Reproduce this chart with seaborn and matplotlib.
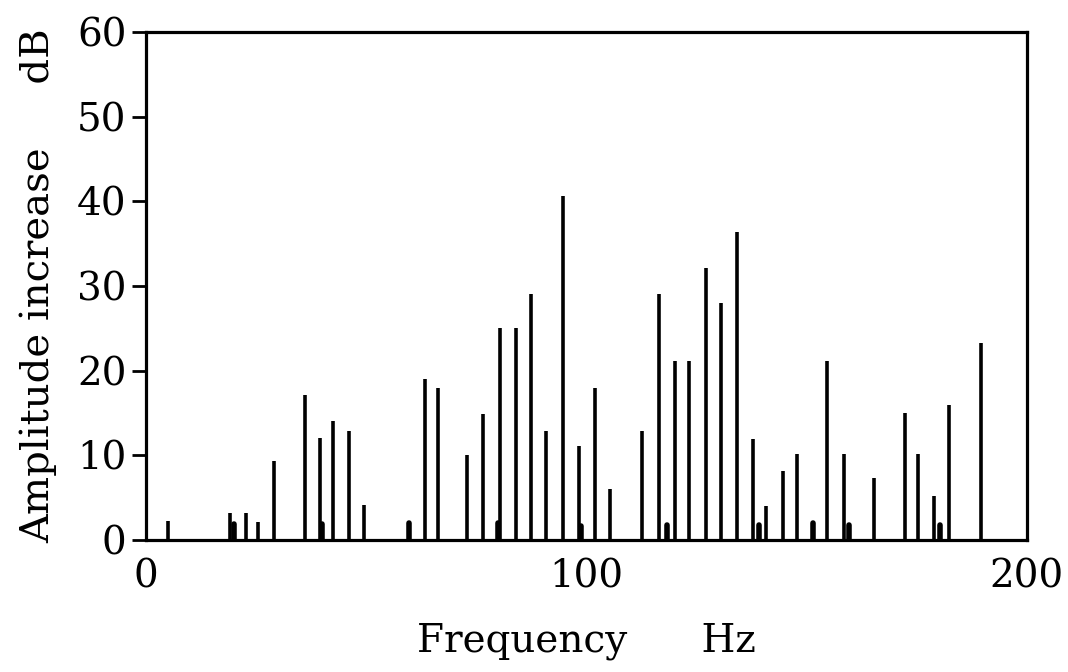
import matplotlib
matplotlib.use("Agg")
import matplotlib.pyplot as plt
import seaborn as sns
import pandas as pd
import numpy as np

# Main spectral lines (frequency in Hz, amplitude increase in dB)
freq_main = [5.0, 19.1, 22.8, 25.5, 29.1, 36.0, 39.4, 42.5, 46.0, 49.4,
             63.3, 66.4, 72.8, 76.5, 80.3, 84.0, 87.4, 90.8, 94.7, 98.3,
             102.0, 105.3, 112.6, 116.5, 120.0, 123.3, 127.2, 130.6, 134.2,
             137.9, 140.8, 144.5, 147.9, 154.7, 158.4, 165.2, 172.2, 175.2,
             178.8, 182.3, 189.5]
amp_main = [2.3, 3.2, 3.2, 2.1, 9.3, 17.1, 12.1, 14.0, 12.9, 4.1,
            19.0, 18.0, 10.0, 14.9, 25.0, 25.0, 29.0, 12.9, 40.6, 11.1,
            18.0, 6.0, 12.9, 29.0, 21.1, 21.1, 32.1, 28.0, 36.4,
            11.9, 4.0, 8.2, 10.1, 21.1, 10.1, 7.3, 15.0, 10.2,
            5.2, 16.0, 23.3]

# Short thick stubs
freq_stub = [20.0, 40.0, 59.8, 80.0, 98.7, 118.3, 139.2, 151.5, 159.7, 180.2]
amp_stub = [1.9, 1.9, 2.0, 2.0, 1.6, 1.8, 1.8, 2.0, 1.8, 1.8]

x_ticks = [0, 100, 200]
y_ticks = [0, 10, 20, 30, 40, 50, 60]


def stems(freqs, amps, prefix):
    rows = []
    for i, (f, a) in enumerate(zip(freqs, amps)):
        rows.append({"id": f"{prefix}{i}", "f": f, "a": 0.0})
        rows.append({"id": f"{prefix}{i}", "f": f, "a": a})
    return pd.DataFrame(rows)


sns.set_theme(style="white")
plt.rcParams["font.family"] = ["DejaVu Serif"]

fig = plt.figure(figsize=(10.68, 6.72), dpi=100)
ax = fig.add_axes([146 / 1068, 1 - 540 / 672, (1027 - 146) / 1068, (540 - 32) / 672])

sns.lineplot(data=stems(freq_main, amp_main, "m"), x="f", y="a", units="id",
             estimator=None, color="black", linewidth=2.6, ax=ax,
             solid_capstyle="butt")
sns.lineplot(data=stems(freq_stub, amp_stub, "s"), x="f", y="a", units="id",
             estimator=None, color="black", linewidth=4, ax=ax,
             solid_capstyle="round")

ax.set_xlim(0, 200)
ax.set_ylim(0, 60)
ax.set_xticks(x_ticks)
ax.set_yticks(y_ticks)
ax.set_xticklabels([str(t) for t in x_ticks], fontsize=28)
ax.set_yticklabels([str(t) for t in y_ticks], fontsize=28)
ax.tick_params(axis="x", length=0, pad=13, colors="black")
ax.tick_params(axis="y", length=10, width=2, direction="out", pad=4, colors="black")
ax.yaxis.set_ticks_position("left")

for s in ax.spines.values():
    s.set_visible(True)
    s.set_color("black")
    s.set_linewidth(2.3)

ax.set_xlabel("Frequency      Hz", fontsize=28, color="black", labelpad=20)
ax.set_ylabel("Amplitude increase     dB", fontsize=29, color="black", labelpad=14)

fig.savefig("out.png", dpi=100, facecolor="white")
